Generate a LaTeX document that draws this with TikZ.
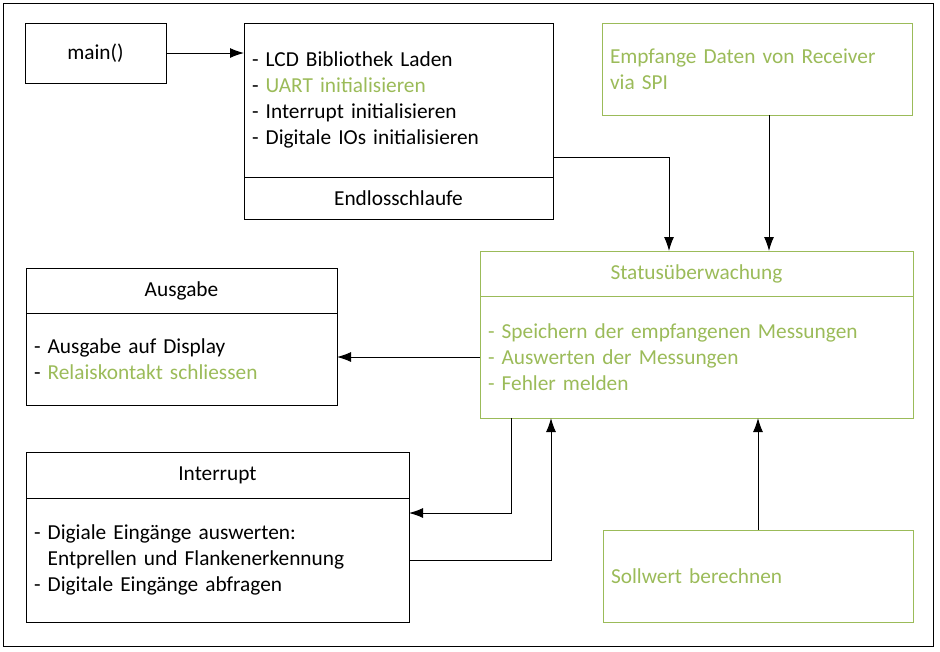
\documentclass[tikz,border=0pt]{standalone}
\usepackage{fontspec}
\setmainfont{Carlito}
\usepackage{tikz}
\definecolor{olive}{HTML}{9BBB59}
\tikzset{
    part/.style={rectangle,draw=black,line width=0.75pt,inner xsep=6pt,inner ysep=0pt,outer sep=0pt,
        font=\fontsize{16}{19.5}\selectfont},
    title/.style={part,align=center},
    items/.style={part,align=left},
    green/.style={draw=olive,text=olive},
    flow/.style={->,line width=0.75pt},
}
\usetikzlibrary{arrows.meta}
\usetikzlibrary{positioning}

\begin{document}
\begin{tikzpicture}[x=0.75pt,y=-0.75pt,>={Latex[length=10.5pt,width=7.5pt]}]
\useasboundingbox (0,0) rectangle (940,651);
\draw[line width=0.75pt] (3,3) rectangle (933,646);

\node[title,minimum width=105.75pt,minimum height=45pt,anchor=north west](main) at (25,23) {main()};
\node[items,text width=219.75pt,minimum height=115.5pt,anchor=north west](inittop) at (244,23) {- LCD Bibliothek Laden\\- \textcolor{olive}{UART initialisieren}\\- Interrupt initialisieren\\- Digitale IOs initialisieren};
\node[title,minimum width=231.75pt,minimum height=31.5pt](initbot) [below=0pt of inittop] {Endlosschlaufe};

\node[items,green,text width=220.5pt,minimum height=69pt,anchor=north west](empf) at (602,23) {Empfange Daten von Receiver\\via SPI};

\node[title,green,minimum width=324.75pt,minimum height=33.75pt,anchor=north west](stattop) at (480,251) {Statusüberwachung};
\node[items,green,text width=312.75pt,minimum height=91.5pt](statbot) [below=0pt of stattop] {- Speichern der empfangenen Messungen\\- Auswerten der Messungen\\- Fehler melden};

\node[title,minimum width=233.25pt,minimum height=33.75pt,anchor=north west](ausgtop) at (26,268) {Ausgabe};
\node[items,text width=221.25pt,minimum height=69pt](ausgbot) [below=0pt of ausgtop] {- Ausgabe auf Display\\- \textcolor{olive}{Relaiskontakt schliessen}};

\node[title,minimum width=287.25pt,minimum height=34.5pt,anchor=north west](inttop) at (26,452) {Interrupt};
\node[items,text width=275.25pt,minimum height=93pt](intbot) [below=0pt of inttop] {- Digiale Eingänge auswerten:\\\phantom{- }Entprellen und Flankenerkennung\\- Digitale Eingänge abfragen};

\node[items,green,text width=220.5pt,minimum height=69pt,anchor=north west](soll) at (603,530) {Sollwert berechnen};

\draw[flow] (main.east) -- (main.east -| inittop.west);
\draw[flow] ([yshift=15pt]inittop.south east) -| ([xshift=141.75pt]stattop.north west);
\draw[flow] ([xshift=125.25pt]empf.south west) coordinate (e) -- (e |- stattop.north);
\draw[flow] (statbot.west) -- (statbot.west -| ausgbot.east);
\draw[flow] ([xshift=23.25pt]statbot.south west) |- ([yshift=-11.25pt]intbot.north east);
\draw[flow] (intbot.east) -| ([xshift=53.25pt]statbot.south west);
\draw[flow] (soll.north) -- (soll.north |- statbot.south);
\end{tikzpicture}
\end{document}
